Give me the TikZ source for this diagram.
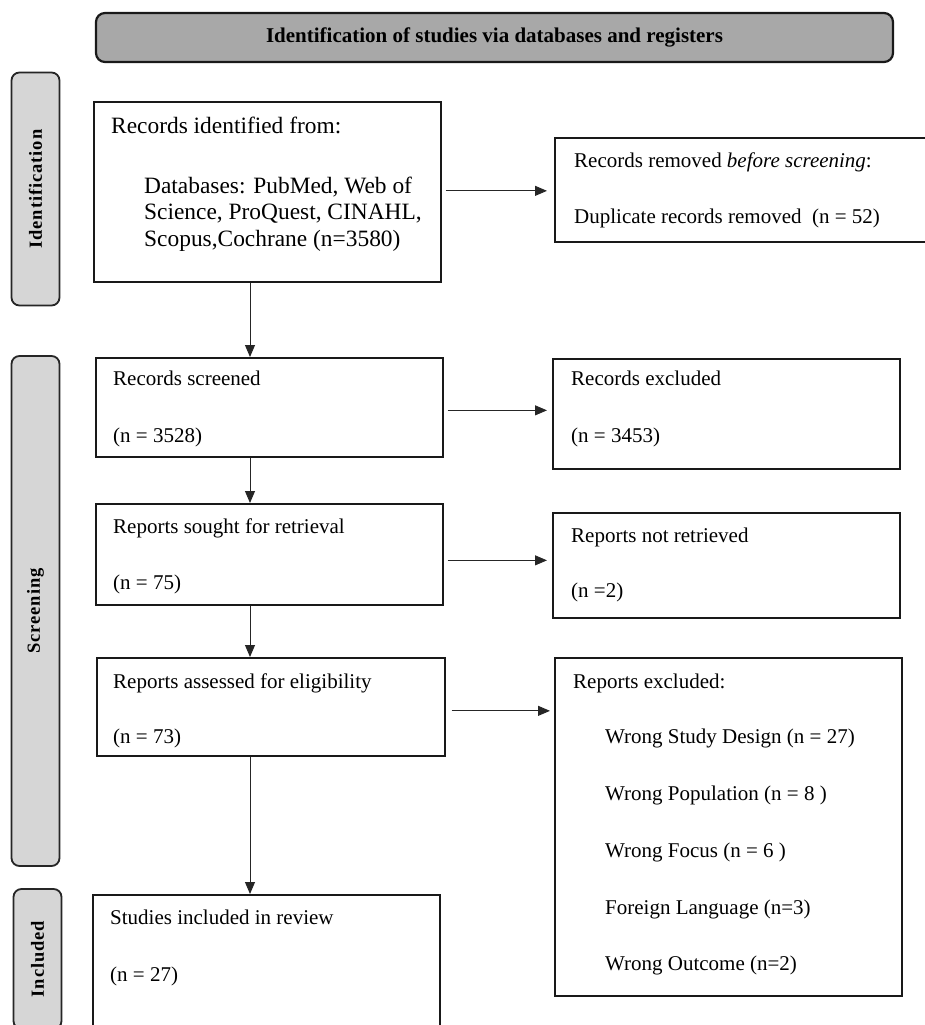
\documentclass[tikz,border=0pt]{standalone}
\usepackage{fontspec}
\setmainfont{Liberation Serif}
\usepackage{tikz}
\usetikzlibrary{arrows.meta, positioning, calc}

\begin{document}
\begin{tikzpicture}[x=1pt, y=1pt,
            flowbox/.style={draw=black!90,line width=1.7pt,anchor=north west,inner sep=0pt},
            phase/.style={draw=black!85,line width=1.8pt,fill=black!16,rounded corners=8pt,rotate=90,
                minimum height=48pt,inner sep=0pt,font=\fontsize{18.5}{20}\selectfont\bfseries\addfontfeature{LetterSpace=5}},
            txt/.style={anchor=base west,inner sep=0pt,font=\fontsize{21}{25}\selectfont},
            bigtxt/.style={txt,font=\fontsize{23.4}{27}\selectfont},
            arr/.style={-{Triangle[length=12pt,width=10pt]},line width=0.9pt,draw=black!85}]

            % Canvas
            \useasboundingbox (0,0) rectangle (925,-1025);
            \fill[white] (0,0) rectangle (925,-1025);
            \clip (0,0) rectangle (925,-1025);

            % Header bar
            \node[draw=black!90,line width=2.2pt,fill=black!34,rounded corners=9pt,minimum width=797pt,minimum height=49pt,
                font=\fontsize{21}{24}\selectfont\bfseries] (title) at (494.5,-37.5) {Identification of studies via databases and registers};

            % Stage labels on the left
            \node[phase,minimum width=233pt] (idphase) at (35.5,-189) {Identification};
            \node[phase,minimum width=510pt] (scphase) at (35.5,-611) {Screening};
            \node[phase,minimum width=140pt] (inphase) at (37.5,-959) {Included};

            % Main column
            \node[flowbox,minimum width=347pt,minimum height=180pt] (ident) at (93,-101) {};
            \node[bigtxt] (ident-a) at ($(ident.north west)+(18,-32)$) {Records identified from:};
            \node[bigtxt] (ident-b) at ($(ident.north west)+(51,-92)$) {Databases: PubMed, Web of};
            \node[bigtxt,below=26.7pt of ident-b.base west,anchor=base west] (ident-c) {Science, ProQuest, CINAHL,};
            \node[bigtxt,below=26.7pt of ident-c.base west,anchor=base west] (ident-d) {Scopus,Cochrane (n=3580)};

            \node[flowbox,minimum width=347pt,minimum height=99pt] (screen) at (95,-357) {};
            \node[txt] (screen-a) at ($(screen.north west)+(18,-28)$) {Records screened};
            \node[txt] (screen-b) at ($(screen.north west)+(18,-85)$) {(n = 3528)};

            \node[flowbox,minimum width=347pt,minimum height=101pt] (sought) at (95,-503) {};
            \node[txt] (sought-a) at ($(sought.north west)+(18,-30)$) {Reports sought for retrieval};
            \node[txt] (sought-b) at ($(sought.north west)+(18,-86)$) {(n = 75)};

            \node[flowbox,minimum width=348pt,minimum height=98pt] (assess) at (96,-657) {};
            \node[txt] (assess-a) at ($(assess.north west)+(17,-31)$) {Reports assessed for eligibility};
            \node[txt] (assess-b) at ($(assess.north west)+(17,-86)$) {(n = 73)};

            \node[flowbox,minimum width=347pt,minimum height=150pt] (incl) at (92,-894) {};
            \node[txt] (incl-a) at ($(incl.north west)+(18,-30)$) {Studies included in review};
            \node[txt] (incl-b) at ($(incl.north west)+(18,-87)$) {(n = 27)};

            % Side column
            \node[flowbox,minimum width=400pt,minimum height=104pt] (removed) at (554,-137) {};
            \node[txt] (removed-a) at ($(removed.north west)+(20,-30)$) {Records removed \textit{before screening}:};
            \node[txt] (removed-b) at ($(removed.north west)+(20,-86)$) {Duplicate records removed~ (n = 52)};

            \node[flowbox,minimum width=347pt,minimum height=110pt] (recexcl) at (552,-358) {};
            \node[txt] (recexcl-a) at ($(recexcl.north west)+(19,-27)$) {Records excluded};
            \node[txt] (recexcl-b) at ($(recexcl.north west)+(19,-84)$) {(n = 3453)};

            \node[flowbox,minimum width=347pt,minimum height=105pt] (notret) at (552,-512) {};
            \node[txt] (notret-a) at ($(notret.north west)+(19,-30)$) {Reports not retrieved};
            \node[txt] (notret-b) at ($(notret.north west)+(19,-85)$) {(n =2)};

            \node[flowbox,minimum width=347pt,minimum height=338pt] (repexcl) at (554,-657) {};
            \node[txt] (repexcl-a) at ($(repexcl.north west)+(19,-31)$) {Reports excluded:};
            \node[txt] (why1) at ($(repexcl.north west)+(51,-86)$) {Wrong Study Design (n = 27)};
            \node[txt] (why2) at ($(repexcl.north west)+(51,-143)$) {Wrong Population (n = 8 )};
            \node[txt] (why3) at ($(repexcl.north west)+(51,-200)$) {Wrong Focus (n = 6 )};
            \node[txt] (why4) at ($(repexcl.north west)+(51,-257)$) {Foreign Language (n=3)};
            \node[txt] (why5) at ($(repexcl.north west)+(51,-313)$) {Wrong Outcome (n=2)};

            % Flow arrows
            \coordinate (spine) at (250,0);
            \draw[arr] (ident.south -| spine) -- (screen.north -| spine);
            \draw[arr] (screen.south -| spine) -- (sought.north -| spine);
            \draw[arr] (sought.south -| spine) -- (assess.north -| spine);
            \draw[arr] (assess.south -| spine) -- (incl.north -| spine);

            \coordinate (out1) at ([shift={(4,1)}]ident.east);
            \coordinate (out2) at ([shift={(4,-3)}]screen.east);
            \coordinate (out3) at ([shift={(4,-6)}]sought.east);
            \coordinate (out4) at ([shift={(6,-4)}]assess.east);
            \draw[arr,shorten >=7pt] (out1) -- (out1 -| removed.west);
            \draw[arr,shorten >=5pt] (out2) -- (out2 -| recexcl.west);
            \draw[arr,shorten >=5pt] (out3) -- (out3 -| notret.west);
            \draw[arr,shorten >=4pt] (out4) -- (out4 -| repexcl.west);
        \end{tikzpicture}
\end{document}
